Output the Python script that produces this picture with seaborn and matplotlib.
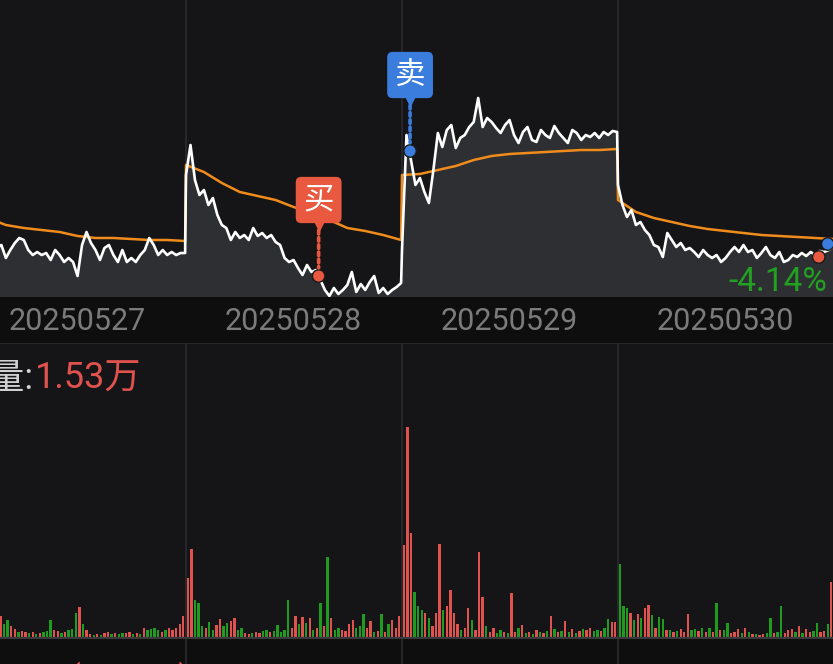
import numpy as np
import pandas as pd
import matplotlib
matplotlib.use("Agg")
import matplotlib.pyplot as plt
import seaborn as sns
from matplotlib.transforms import offset_copy

# ---- data ----
days = ["20250527", "20250528", "20250529", "20250530"]

# price every 5 minutes (49 points per day)
price_0527 = [9.65, 9.60, 9.55, 9.62, 9.50, 9.58, 9.52, 9.55, 9.42, 9.50,
              9.57, 9.62, 9.60, 9.50, 9.45, 9.48, 9.45, 9.47, 9.40, 9.50,
              9.45, 9.38, 9.42, 9.38, 9.24, 9.55, 9.68, 9.57, 9.50, 9.40,
              9.52, 9.55, 9.45, 9.38, 9.50, 9.38, 9.42, 9.38, 9.45, 9.50,
              9.62, 9.55, 9.45, 9.50, 9.45, 9.48, 9.45, 9.47, 9.47]
price_0528 = [10.25, 10.55, 10.20, 10.05, 10.10, 9.95, 10.02, 9.85, 9.75, 9.72,
              9.60, 9.68, 9.62, 9.65, 9.60, 9.72, 9.64, 9.67, 9.62, 9.65,
              9.58, 9.55, 9.42, 9.38, 9.40, 9.32, 9.25, 9.35, 9.28, 9.30,
              9.20, 9.10, 9.04, 9.12, 9.06, 9.10, 9.15, 9.28, 9.08, 9.16,
              9.10, 9.18, 9.24, 9.07, 9.12, 9.06, 9.10, 9.13, 9.17]
price_0529 = [9.50, 10.65, 10.40, 10.15, 10.22, 10.08, 9.97, 10.30, 10.67, 10.53,
              10.70, 10.75, 10.52, 10.62, 10.65, 10.73, 10.78, 11.02, 10.73, 10.82,
              10.78, 10.72, 10.67, 10.75, 10.80, 10.65, 10.57, 10.68, 10.73, 10.60,
              10.58, 10.70, 10.65, 10.62, 10.74, 10.67, 10.62, 10.57, 10.70, 10.67,
              10.60, 10.65, 10.63, 10.67, 10.62, 10.68, 10.65, 10.69, 10.68]
price_0530 = [10.15, 9.95, 9.83, 9.90, 9.75, 9.78, 9.70, 9.65, 9.55, 9.53,
              9.43, 9.67, 9.60, 9.53, 9.57, 9.50, 9.52, 9.48, 9.43, 9.50,
              9.45, 9.42, 9.45, 9.38, 9.42, 9.48, 9.53, 9.48, 9.55, 9.48,
              9.50, 9.42, 9.47, 9.53, 9.45, 9.42, 9.48, 9.38, 9.40, 9.45,
              9.43, 9.47, 9.44, 9.48, 9.45, 9.49, 9.48, 9.50, 9.53]

# average price every 20 minutes (13 points per day)
avg_0527 = [9.90, 9.82, 9.75, 9.72, 9.70, 9.68, 9.64, 9.62, 9.62, 9.61, 9.60, 9.60, 9.59]
avg_0528 = [10.35, 10.28, 10.17, 10.08, 10.04, 10.00, 9.93, 9.87, 9.80, 9.72, 9.69, 9.65, 9.60]
avg_0529 = [10.25, 10.26, 10.30, 10.34, 10.40, 10.44, 10.46, 10.47, 10.48, 10.49, 10.50, 10.50, 10.51]
avg_0530 = [10.00, 9.88, 9.82, 9.78, 9.74, 9.71, 9.69, 9.67, 9.65, 9.64, 9.63, 9.62, 9.61]

# volume every 4 minutes (60 per day), + up (red) / - down (green)
vol_0527 = [10, -8, 12, -15, 20, 14, -9, 10, 22, -14,
            -18, 12, 9, -6, 7, 6, -5, 6, -4, 5,
            -6, -7, -18, 8, 7, -5, 6, -8, -9, -25,
            31, -14, 8, 4, -3, 4, -3, 5, 6, -4,
            5, -4, -5, 5, 6, -4, 5, -4, 10, -8,
            -9, -10, -8, 6, -8, 10, 8, 10, 14, 22]
vol_0528 = [60, 89, -38, -35, -12, 10, -16, -8, 13, 19,
            -12, -15, 17, 20, -8, -10, 5, 4, -5, 6,
            5, -7, -8, 6, -7, -13, -6, -8, -38, 10,
            22, -14, 21, -15, 20, -8, 10, -35, 12, -81,
            20, -8, -10, 8, 7, 14, 18, -10, -12, -24,
            10, 17, -6, 7, -24, 6, -14, 18, 10, 22]
vol_0529 = [93, 211, 105, -46, -32, -28, 25, -20, 12, 25,
            94, -28, 32, 48, 25, 14, -8, 10, 30, -18,
            8, 86, 41, -12, 6, 10, -5, -8, 6, -5,
            45, 6, -10, 13, -5, 6, -4, 8, -6, 5,
            -7, 22, -9, 6, -7, 17, -6, 9, -5, 7,
            -9, 8, 10, -7, -8, 7, -10, -19, 16, 16]
vol_0530 = [-74, -32, -30, 25, -18, 24, -20, 30, 33, -23,
            10, -21, -19, 8, -8, 6, -7, 9, 6, 24,
            -8, -9, 7, -10, 6, -10, 6, -35, 8, -8,
            -15, 5, 6, 9, -5, 10, -6, 4, -4, 3,
            4, -5, -20, 5, -6, -32, 5, 8, 9, -6,
            12, -5, 9, 6, -7, -15, 6, 7, -14, 56]

# trades: minute index, price, side
trade_minute = [389, 491, 947, 957]
trade_price = [9.24, 10.49, 9.43, 9.56]
trade_side = ["买", "卖", "买", "卖"]
trade_boxed = [True, True, False, False]

change_text = "-4.14%"
vol_title = "成交量:"
vol_value = "1.53万"
macd_text = "MACD(12,26,9) 0.000"

# ---- build frames ----
day_len = 241
prices = [price_0527, price_0528, price_0529, price_0530]
avgs = [avg_0527, avg_0528, avg_0529, avg_0530]
vols = [vol_0527, vol_0528, vol_0529, vol_0530]

price_df = pd.concat([pd.DataFrame({"minute": d * day_len + np.arange(len(p)) * 5, "price": p})
                      for d, p in enumerate(prices)], ignore_index=True)
avg_df = pd.concat([pd.DataFrame({"minute": d * day_len + np.arange(len(a)) * 20, "avg": a})
                    for d, a in enumerate(avgs)], ignore_index=True)
vol_df = pd.concat([pd.DataFrame({"minute": d * day_len + np.arange(len(v)) * 4 + 2, "vol": v})
                    for d, v in enumerate(vols)], ignore_index=True)
trade_df = pd.DataFrame({"minute": trade_minute, "price": trade_price, "side": trade_side})

# ---- colours ----
bg_panel = "#151517"
bg_band = "#0e0e0f"
grid_c = "#2b2b2e"
fill_c = "#2e2f33"
red = "#e0524e"
green = "#1f9b1f"
buy_c = "#e8593f"
sell_c = "#3b7ddd"

sns.set_theme(style="dark")
plt.rcParams["font.family"] = ["Roboto", "Noto Sans CJK SC", "DejaVu Sans"]

W, H = 833, 664
fig = plt.figure(figsize=(W / 100, H / 100), dpi=100, facecolor=bg_band)
xmin, xmax = 30 * day_len / 216, 863 * day_len / 216

# price panel
ax = fig.add_axes([0, 1 - 297 / H, 1, 297 / H])
ax.set_facecolor(bg_panel)
ymin, ymax = 9.03, 12.00
for d in range(1, 4):
    ax.axvline(d * day_len, color=grid_c, lw=1.2, zorder=0)
ax.fill_between(price_df["minute"], price_df["price"], ymin, color=fill_c, lw=0, zorder=1)
sns.lineplot(data=avg_df, x="minute", y="avg", color="#f08c1c", lw=1.8, ax=ax, zorder=2)
sns.lineplot(data=price_df, x="minute", y="price", color="white", lw=1.9, ax=ax, zorder=3)
ax.set_xlim(xmin, xmax)
ax.set_ylim(ymin, ymax)

side_color = {"买": buy_c, "卖": sell_c}
sns.scatterplot(data=trade_df, x="minute", y="price", hue="side", palette=side_color,
                s=80, edgecolor="#1a1a1a", linewidth=1, legend=False, ax=ax, zorder=6)

for m, p, side, boxed in zip(trade_minute, trade_price, trade_side, trade_boxed):
    if not boxed:
        continue
    c = side_color[side]
    ax.annotate(side, xy=(m, p), xytext=(0, 76), textcoords="offset pixels",
                ha="center", va="center", fontsize=22, color="white",
                family=["Noto Sans CJK SC"],
                bbox=dict(boxstyle="round,pad=0.25,rounding_size=0.18", fc=c, ec="none"),
                arrowprops=dict(arrowstyle="-", color=c, lw=2.6, linestyle=(0, (1, 1)),
                                shrinkA=0, shrinkB=6),
                zorder=7)
    tri = offset_copy(ax.transData, fig=fig, x=0, y=49, units="dots")
    ax.plot([m], [p], marker="v", ms=7, color=c, mec="none", transform=tri, zorder=7)

ax.text(1 - 6 / W, (297 - 282) / 297, change_text, transform=ax.transAxes,
        ha="right", va="center", fontsize=24, color="#22a022", zorder=8)

for d, label in enumerate(days):
    ax.text(d * day_len + 120, -25 / 297, label, transform=ax.get_xaxis_transform(),
            ha="center", va="center", fontsize=22, color="#7b7b7b", clip_on=False)

ax.set_xticks([])
ax.set_yticks([])
ax.set_xlabel("")
ax.set_ylabel("")
for s in ax.spines.values():
    s.set_visible(False)

# volume panel
axv = fig.add_axes([0, 0, 1, 321 / H])
axv.set_facecolor(bg_band)
axv.axhspan(0, 295, color=bg_panel, lw=0, zorder=0)
for d in range(1, 4):
    axv.axvline(d * day_len, color=grid_c, lw=1.2, zorder=1)
bar_colors = [red if v > 0 else green for v in vol_df["vol"]]
axv.bar(vol_df["minute"], vol_df["vol"].abs(), width=2.6, color=bar_colors, lw=0, zorder=2)
axv.axhline(0, color="#3a3a3c", lw=1.5, zorder=3)
axv.axhline(295, color="#2c2c2e", lw=1.2, zorder=3)
axv.set_xlim(xmin, xmax)
axv.set_ylim(-26, 295)
axv.set_xticks([])
axv.set_yticks([])
for s in axv.spines.values():
    s.set_visible(False)

axv.text(34 / W, (664 - 379) / 321, vol_title, transform=axv.transAxes,
         ha="right", va="center", fontsize=26, color="#d0d0d0")
axv.text(35 / W, (664 - 379) / 321, vol_value, transform=axv.transAxes,
         ha="left", va="center", fontsize=26, color=red)
axv.text(-16 / W, (664 - 661) / 321, macd_text, transform=axv.transAxes,
         ha="left", va="top", fontsize=22, color=red, clip_on=False)

fig.savefig("out.png", dpi=100, facecolor=bg_band)
